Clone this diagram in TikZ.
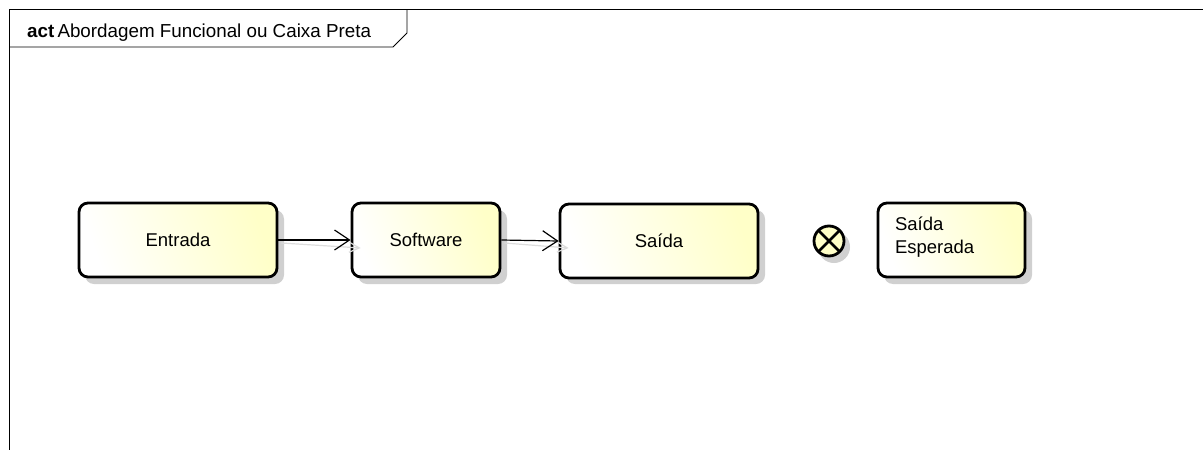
\documentclass[tikz,border=0pt]{standalone}
\usepackage{fontspec}
\setmainfont{Liberation Sans}
\usetikzlibrary{arrows.meta,calc}
\definecolor{boxyellow}{RGB}{255,255,200}
\definecolor{shadowgray}{RGB}{208,208,208}
\definecolor{arrowshadow}{RGB}{220,220,220}
\tikzset{
  actbox/.style={draw=black, line width=2.8pt, rounded corners=9pt,
    left color=white, right color=boxyellow, shading angle=110,
    font=\fontsize{18.5}{22}\selectfont, inner sep=0pt},
  boxshadow/.style={fill=shadowgray, rounded corners=9pt},
  flow/.style={draw=black, line width=1.2pt, -{Straight Barb[length=15pt,width=20pt,line width=1.2pt]}},
  flowshadow/.style={draw=arrowshadow, line width=1.2pt, -{Straight Barb[length=10pt,width=10pt,line width=1.2pt]}},
  frameline/.style={draw=black, line width=0.9pt}
}
\begin{document}
\begin{tikzpicture}[x=1pt,y=-1pt]
  \useasboundingbox (0,0) rectangle (1203,450);
  \fill[white] (0,0) rectangle (1203,450);

  % diagram frame and name tab
  \draw[frameline] (1210,9) -- (9,9) -- (9,460);
  \draw[frameline] (407,9) -- (407,33) -- (393,47) -- (9,47);
  \node[anchor=base west, inner sep=0pt, font=\fontsize{18.8}{22}\selectfont] (title) at (27,37)
    {\textbf{act}\,Abordagem Funcional ou Caixa Preta};

  % drop shadows
  \fill[boxshadow] (85,210) rectangle (284,284);
  \fill[boxshadow] (358,210) rectangle (507,284);
  \fill[boxshadow] (566,210) rectangle (765,284);
  \fill[boxshadow] (884,210) rectangle (1032,284);
  \fill[shadowgray] (834,247) circle (16);

  % action nodes
  \node[actbox, minimum width=198pt, minimum height=74pt] (entrada) at (178,240) {Entrada};
  \node[actbox, minimum width=148pt, minimum height=74pt] (software) at (426,240) {Software};
  \node[actbox, minimum width=198pt, minimum height=74pt] (saida) at (659,241) {Saída};
  \node[actbox, minimum width=147pt, minimum height=74pt, align=left,
        text width=113pt, font=\fontsize{18.5}{24}\selectfont] (esperada) at (951.5,240)
    {Saída\\[-1pt]Esperada\vspace{6pt}};

  % flow final node
  \node[circle, draw=black, line width=2.8pt, fill=boxyellow, minimum size=30pt, inner sep=0pt] (final) at (829,241) {};
  \draw[line width=2.8pt] ($(final.center)+(-10,-10)$) -- ($(final.center)+(10,10)$);
  \draw[line width=2.8pt] ($(final.center)+(-10,10)$) -- ($(final.center)+(10,-10)$);

  % control flows with their faint shadows
  \coordinate (s1a) at ($(entrada.east)+(3,3)$);
  \coordinate (s1b) at ($(software.west)+(10,8)$);
  \draw[flowshadow] (s1a) -- (s1b);
  \coordinate (s2a) at ($(software.east)+(3,3)$);
  \coordinate (s2b) at ($(saida.west)+(10,7)$);
  \draw[flowshadow] (s2a) -- (s2b);
  \draw[flow] (entrada.east) -- (software.west);
  \draw[flow] (software.east) -- (saida.west);
\end{tikzpicture}
\end{document}
